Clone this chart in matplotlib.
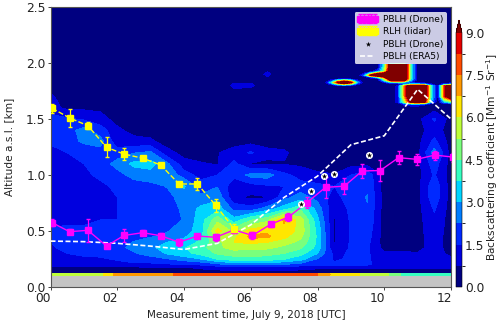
import numpy as np
import matplotlib
matplotlib.use('Agg')
import matplotlib.pyplot as plt
from matplotlib.colors import BoundaryNorm
from matplotlib.transforms import ScaledTranslation

# Drone and lidar heights, same time steps
drone_time = [0.05, 0.57, 1.12, 1.68, 2.2, 2.76, 3.3, 3.85, 4.4, 4.95, 5.5, 6.05,
              6.6, 7.13, 7.68, 8.24, 8.8, 9.34, 9.88, 10.43, 10.97, 11.52, 12.05]
drone_pblh = [0.574, 0.494, 0.506, 0.366, 0.46, 0.485, 0.458, 0.40, 0.455, 0.444, 0.51, 0.46,
              0.56, 0.625, 0.753, 0.89, 0.90, 1.036, 1.04, 1.155, 1.14, 1.178, 1.16]
drone_err = [0.03, 0.02, 0.1, 0.02, 0.06, 0.02, 0.02, 0.03, 0.02, 0.03, 0.03, 0.03,
             0.02, 0.04, 0.05, 0.095, 0.07, 0.065, 0.09, 0.06, 0.05, 0.04, 0.04]

lidar_time = [0.05, 0.57, 1.12, 1.68, 2.2, 2.76, 3.3, 3.85, 4.4, 4.95, 5.5]
lidar_rlh = [1.595, 1.51, 1.44, 1.247, 1.187, 1.15, 1.09, 0.92, 0.92, 0.73, 0.52]
lidar_err = [0.04, 0.08, 0.03, 0.09, 0.05, 0.02, 0.02, 0.02, 0.055, 0.06, 0.04]

star_time = [7.51, 7.81, 8.18, 8.48, 9.55]
star_pblh = [0.738, 0.857, 0.994, 1.01, 1.18]

era5_time = [0, 1, 2, 3, 4, 5, 6, 7, 8, 9, 10, 11, 12]
era5_pblh = [0.41, 0.405, 0.39, 0.365, 0.335, 0.39, 0.555, 0.80, 0.99, 1.27, 1.35, 1.765, 1.5]

# Lidar backscatter, one profile per half hour
grid_time = np.arange(0, 12.5, 0.5)
grid_height = [0.105, 0.118, 0.124, 0.17, 0.2, 0.25, 0.3, 0.35, 0.4, 0.45, 0.5, 0.6, 0.7, 0.8,
               0.9, 1.0, 1.1, 1.2, 1.3, 1.4, 1.5, 1.6, 1.7, 1.8, 1.9, 2.0, 2.5]
profiles = [
    [5.5, 5.5, .5, .5, 1.0, 1.2, 1.3, 1.4, 1.5, 1.6, 1.6, 1.3, 1.0, 1.0, 1.1, 1.2, 1.2, 1.3, 1.6, 1.8, 1.9, 1.0, .9, .3, .2, .2, .1],
    [5.5, 5.5, .5, .5, 1.1, 1.3, 1.5, 1.7, 1.7, 1.7, 1.6, 1.4, 1.2, 1.1, 1.2, 1.3, 1.4, 1.5, 1.9, 2.0, 1.6, .6, .3, .2, .2, .2, .1],
    [5.5, 5.5, .5, .5, 1.2, 1.4, 1.6, 1.8, 1.8, 1.7, 1.6, 1.4, 1.3, 1.3, 1.3, 1.4, 1.5, 1.7, 2.4, 2.5, 1.4, .6, .3, .2, .2, .2, .1],
    [5.8, 5.8, .5, .5, 1.2, 1.4, 1.7, 1.9, 1.9, 1.8, 1.6, 1.5, 1.4, 1.4, 1.4, 1.6, 1.9, 2.0, 2.5, 1.9, 1.0, .6, .2, .2, .2, .2, .1],
    [7, 7, .5, .5, 1.2, 1.6, 2.0, 2.1, 1.9, 1.8, 1.7, 1.5, 1.5, 1.5, 1.6, 2.0, 2.5, 1.9, 1.0, .9, .5, .3, .2, .2, .2, .2, .1],
    [7, 7, .5, .5, 1.3, 1.9, 2.2, 2.4, 2.3, 2.0, 1.8, 1.6, 1.6, 1.7, 1.9, 2.5, 3.2, 2.2, 1.0, .5, .3, .2, .2, .2, .2, .2, .1],
    [7, 7, .5, .6, 1.3, 2.0, 2.5, 2.8, 2.6, 2.2, 2.0, 1.8, 1.7, 1.8, 2.0, 2.7, 3.3, 2.4, .9, .4, .2, .2, .2, .2, .2, .2, .1],
    [7.2, 7.2, .5, .6, 1.4, 2.2, 3.1, 3.4, 3.0, 2.4, 2.2, 1.9, 1.9, 2.0, 2.3, 2.8, 2.4, 1.0, .4, .2, .2, .2, .2, .2, .2, .2, .1],
    [8, 8, .5, .7, 1.5, 2.6, 3.5, 3.7, 3.3, 2.9, 2.7, 2.3, 2.4, 2.6, 3.1, 1.9, 1.0, .5, .2, .2, .2, .2, .2, .2, .2, .2, .1],
    [8, 8, .5, .8, 1.6, 3.0, 4.0, 4.2, 3.9, 3.6, 3.3, 3.4, 3.2, 2.4, 1.9, 1.2, .8, .5, .2, .2, .2, .2, .2, .2, .2, .2, .1],
    [8, 8, .5, .9, 2.0, 3.8, 4.6, 5.0, 5.0, 5.5, 6.3, 5.0, 3.4, 2.8, 2.2, 1.5, .7, .7, .3, .2, .2, .2, .2, .2, .2, .2, .1],
    [8, 8, .5, 1.0, 2.3, 4.2, 4.8, 5.6, 6.0, 5.8, 5.0, 3.3, 2.0, .9, 1.0, 1.7, 1.7, 1.1, .4, .3, .3, .4, .3, .9, .2, .2, .1],
    [8, 8, .5, 1.1, 2.4, 4.3, 4.8, 5.4, 6.2, 7.0, 6.4, 4.4, 1.8, .6, 1.2, 2.5, .7, 1.6, .5, .2, .2, .2, .2, .9, .2, .2, .1],
    [8, 8, .5, 1.1, 2.4, 4.2, 4.7, 5.4, 6.0, 6.9, 6.6, 5.0, 2.6, .7, 1.4, 2.6, .6, 1.0, .4, .2, .2, .2, .2, .2, .9, .2, .1],
    [8, 8, .5, 1.0, 2.2, 3.8, 4.5, 5.0, 5.6, 6.2, 6.5, 6.9, 3.4, 2.0, 1.5, 1.7, .7, .9, .3, .2, .2, .2, .2, .2, .2, .2, .1],
    [8, 8, .5, .9, 1.9, 3.3, 4.0, 4.6, 5.0, 5.4, 5.7, 5.6, 4.3, 2.6, 1.8, 1.2, .6, .3, .2, .2, .2, .2, .2, .2, .2, .2, .1],
    [7.5, 7.5, .5, .8, 1.7, 2.2, 3.0, 3.5, 3.6, 3.6, 3.5, 3.2, 2.7, 2.0, 1.7, .9, .4, .2, .2, .2, .2, .2, .2, .2, .2, .2, .1],
    [6.5, 6.5, .5, .8, 1.6, 1.4, 1.3, .8, .7, .7, .7, .7, .8, 1.2, 1.5, .8, .3, .2, .2, .2, .2, .2, .2, .2, .2, .2, .1],
    [6.5, 6.5, .5, .8, 1.6, 1.6, 1.6, 1.6, 1.6, 1.6, 1.6, 1.6, 1.7, 1.9, 1.9, 1.5, .5, .2, .2, .2, .2, .2, .2, .2, .2, .2, .1],
    [5.5, 5.5, .5, .8, 1.6, 1.6, 1.6, 1.6, 1.7, 1.8, 1.9, 2.1, 2.2, 2.3, 2.1, 2.0, .5, .2, .2, .2, .2, .2, .2, .2, .2, .2, .1],
    [5.5, 5.5, .5, .8, 1.2, 1.0, .9, .5, .4, .4, .4, .4, .4, .4, .4, .4, .2, .2, .2, .2, .2, .2, .2, .2, .2, .2, .1],
    [4.5, 4.5, .5, .8, 1.0, 1.0, .9, .5, .4, .4, .4, .4, .4, .4, .4, .4, .3, .2, .2, .2, .2, .2, .2, .2, .2, .2, .1],
    [4.5, 4.5, .5, .8, .9, 1.0, .8, .5, .5, .5, .5, .5, .5, .5, .5, .5, .5, .5, .5, .5, .5, .3, .2, .2, .2, .2, .1],
    [4.5, 4.5, .5, .8, 1.0, 1.1, 1.2, 1.1, 1.1, 1.1, 1.2, 1.3, 1.6, 2.0, 2.0, 1.6, 1.9, 2.6, 1.7, 1.1, 1.6, .4, .2, .2, .2, .2, .1],
    [4.5, 4.5, .5, .8, .9, .9, .5, .4, .4, .4, .4, .4, .4, .4, .4, .4, .4, .4, .4, .4, .4, .2, .2, .2, .2, .2, .1],
]

# Aerosol layers near the top, on a finer grid
cloud_time = [8.2, 8.4, 8.6, 8.8, 9.0, 9.2, 9.4, 9.6, 9.8, 10.0, 10.2, 10.4, 10.6, 10.8, 11.0, 11.2, 11.4, 11.6, 11.8, 12.0]
cloud_height = [1.6, 1.63, 1.65, 1.7, 1.75, 1.795, 1.81, 1.826, 1.845, 1.86, 1.875, 1.89, 1.905, 1.925, 1.96, 1.985, 1.995]
cloud_rows = [
    [0, 0, 0, 0, 0, 0, 0, 0, 0, 0, 0, 0, 0, 0, 0, 0, 0, 0, 0, 0],
    [0, 0, 0, 0, 0, 0, 0, 0, 0, 0, 0, 0, 1, 1.5, 1.5, 1, 0, 0, 0, 0],
    [0, 0, 0, 0, 0, 0, 0, 0, 0, 0, 0, 1, 5, 9.5, 10, 9.5, 3, 0, 3, 4],
    [0, 0, 0, 0, 0, 0, 0, 0, 0, 0, 0, 1, 7, 12, 12, 12, 4, .5, 8, 12],
    [0, 0, 0, 0, 0, 0, 0, 0, 0, 0, 0, 1, 7, 12, 12, 12, 4, .5, 8, 12],
    [0, 0, 0, 0, 0, 0, 0, 0, 0, 0, 0, 1, 7, 12, 12, 12, 4, .5, 8, 12],
    [0, 1, 4, 6, 4, 1, 0, 0, 0, 0, 0, 0, 2, 4, 4, 3, 1, 0, 2, 3],
    [0, 3.5, 9.5, 12, 9.5, 3, 0, 0, 0, .8, 3, 3, 3, 1, 0, 0, 0, 0, 0, 0],
    [0, 1, 4, 6, 4, 1, 0, 0, 0, 4, 9.5, 10, 9.5, 3, 0, 0, 0, 0, 0, 0],
    [0, 0, 0, 0, 0, 0, 0, 0, .5, 5, 12, 12, 12, 4, .3, 0, 0, 0, 0, 0],
    [0, 0, 0, 0, 0, 0, 0, 2, 5, 9, 12, 12, 12, 4, .3, 0, 0, 0, 0, 0],
    [0, 0, 0, 0, 0, 0, 2.5, 9.5, 12, 12, 12, 12, 12, 4, .3, 0, 0, 0, 0, 0],
    [0, 0, 0, 0, 0, 0, 1, 5, 9, 10, 12, 12, 12, 4, .3, 0, 0, 0, 0, 0],
    [0, 0, 0, 0, 0, 0, 0, .5, 2, 5, 12, 12, 12, 4, .3, 0, 0, 0, 0, 0],
    [0, 0, 0, 0, 0, 0, 0, 0, 0, 4.5, 11, 12, 12, 4, .3, 0, 0, 0, 0, 0],
    [0, 0, 0, 0, 0, 0, 0, 0, 0, 4.5, 11, 12, 12, 4, .3, 0, 0, 0, 0, 0],
    [0, 0, 0, 0, 0, 0, 0, 0, 0, 0, 0, 0, 0, 0, 0, 0, 0, 0, 0, 0],
]

x_ticks = [0, 2, 4, 6, 8, 10, 12]
x_labels = ['00', '02', '04', '06', '08', '10', '12']
y_ticks = [0.0, 0.5, 1.0, 1.5, 2.0, 2.5]
cbar_ticks = [0.0, 1.5, 3.0, 4.5, 6.0, 7.5, 9.0]

levels = np.arange(0, 9.01, 0.75)
norm = BoundaryNorm(levels, 256, extend='max')

fig = plt.figure(figsize=(5.0, 3.24), dpi=100)
ax = fig.add_axes([50.5 / 500, 37 / 324, 400.5 / 500, 280 / 324])
ax.set_facecolor('#c4c4c4')

values = np.array(profiles).T
cf = ax.contourf(grid_time, grid_height, values, levels=levels, cmap='jet', norm=norm, extend='max')
ax.contourf(cloud_time, cloud_height, np.array(cloud_rows), levels=levels[1:], cmap='jet', norm=norm, extend='max')

# Error bars and lines
drone = ax.errorbar(drone_time, drone_pblh, yerr=drone_err, color='magenta', marker='s', ms=5,
                    lw=1.0, elinewidth=0.9, capsize=1.6, label='PBLH (Drone)', zorder=5)
lidar = ax.errorbar(lidar_time, lidar_rlh, yerr=lidar_err, color='yellow', marker='s', ms=5,
                    lw=1.0, ls='--', elinewidth=0.9, capsize=1.6, label='RLH (lidar)', zorder=5)
# white disc behind each star
ax.scatter(star_time, star_pblh, marker='o', s=26, c='white', linewidths=0, zorder=6)
stars = ax.scatter(star_time, star_pblh, marker='*', s=16, c='k', linewidths=0,
                   label='PBLH (Drone)', zorder=7)
era5, = ax.plot(era5_time, era5_pblh, color='white', ls='--', lw=1.2, dashes=(3, 1.5),
                label='PBLH (ERA5)', zorder=4)

ax.set_xlim(0, 12)
ax.set_ylim(0, 2.5)
ax.set_xticks(x_ticks)
ax.set_xticklabels(x_labels)
ax.set_yticks(y_ticks)
ax.tick_params(axis='both', labelsize=8.8, length=2, width=0.6, pad=1.5, colors='#222222')
for lab in ax.get_xticklabels():
    lab.set_transform(lab.get_transform() + ScaledTranslation(-7 / 100, 0, fig.dpi_scale_trans))
for sp in ax.spines.values():
    sp.set_color('#555555')
ax.set_xlabel('Measurement time, July 9, 2018 [UTC]', fontsize=7.5, color='#222222')
ax.xaxis.set_label_coords(196 / 400.5, -23 / 280)
ax.set_ylabel('Altitude a.s.l. [km]', fontsize=7.6, color='#222222')
ax.yaxis.set_label_coords(-36 / 400.5, 0.5)

ax.legend(handles=[drone, lidar, stars, era5], loc='upper right', bbox_to_anchor=(396 / 400.5, 275 / 280),
          numpoints=5, fontsize=6.5, borderaxespad=0, handlelength=2.3, framealpha=0.8, edgecolor='none',
          labelspacing=0.38, borderpad=0.3, handletextpad=0.6)

cax = fig.add_axes([456 / 500, 37 / 324, 6 / 500, 267 / 324])
cb = fig.colorbar(cf, cax=cax, ticks=cbar_ticks)
cb.ax.tick_params(labelsize=8.8, length=0, pad=2, colors='#222222')
cb.set_label('Backscattering coefficient [Mm$^{-1}$ Sr$^{-1}$]', fontsize=7.7, color='#222222', labelpad=0, y=0.51)
cb.outline.set_linewidth(0.4)

fig.savefig('out.png', dpi=100)
